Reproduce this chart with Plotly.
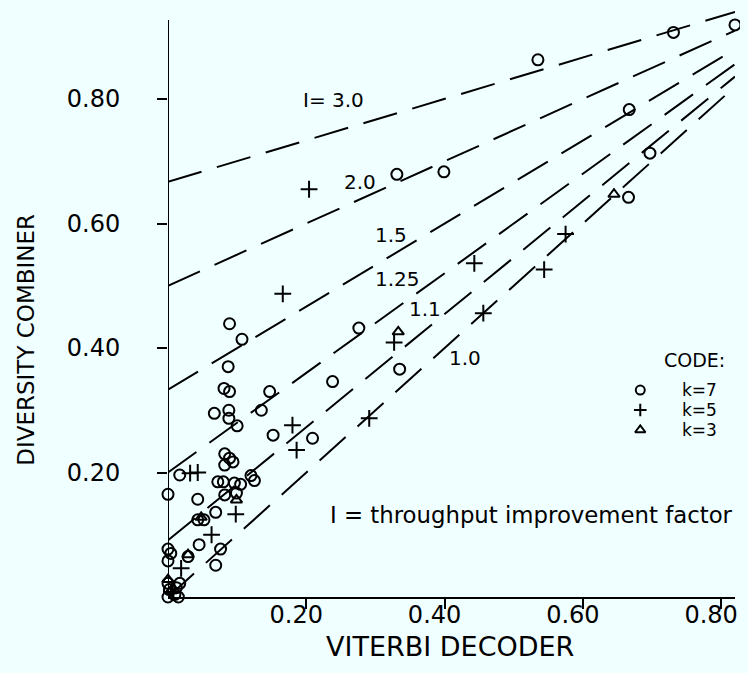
import plotly.graph_objects as go

# ---------------- data ----------------
k7_x = [0.820, 0.731, 0.535, 0.667, 0.697, 0.666, 0.399, 0.331, 0.276, 0.335, 0.238, 0.209,
        0.089, 0.107, 0.087, 0.081, 0.089, 0.147, 0.067, 0.088, 0.135, 0.088, 0.100, 0.152,
        0.082, 0.089, 0.094, 0.082, 0.017, 0.072, 0.080, 0.096, 0.105, 0.120, 0.125,
        0.000, 0.043, 0.082, 0.099, 0.069, 0.043, 0.052, 0.045, 0.076, 0.069,
        0.000, 0.004, 0.000, 0.029, 0.017,
        0.000, 0.002, 0.000, 0.010, 0.012, 0.005, 0.015]
k7_y = [0.919, 0.907, 0.863, 0.783, 0.713, 0.642, 0.683, 0.679, 0.432, 0.366, 0.346, 0.255,
        0.439, 0.414, 0.370, 0.335, 0.330, 0.330, 0.295, 0.300, 0.300, 0.287, 0.275, 0.260,
        0.230, 0.223, 0.217, 0.212, 0.196, 0.185, 0.185, 0.183, 0.181, 0.195, 0.187,
        0.165, 0.157, 0.164, 0.167, 0.136, 0.124, 0.124, 0.084, 0.077, 0.051,
        0.077, 0.070, 0.058, 0.065, 0.022,
        0.000, 0.012, 0.022, 0.004, 0.015, -0.008, 0.000]

k5_x = [0.575, 0.544, 0.443, 0.456, 0.204, 0.166, 0.327, 0.291, 0.180, 0.186,
        0.032, 0.043, 0.098, 0.063, 0.019, 0.005]
k5_y = [0.583, 0.526, 0.536, 0.456, 0.655, 0.487, 0.409, 0.287, 0.276, 0.236,
        0.199, 0.200, 0.133, 0.100, 0.046, 0.008]

k3_x = [0.645, 0.333, 0.099, 0.048, 0.029, 0.000, 0.004]
k3_y = [0.647, 0.426, 0.156, 0.128, 0.068, 0.028, 0.010]

# throughput-improvement reference lines: value at x=0 and at x=0.82
factor_labels = ["I= 3.0", "2.0", "1.5", "1.25", "1.1", "1.0"]
line_x = [0.0, 0.82]
line_start = [0.667, 0.500, 0.333, 0.200, 0.091, 0.000]
line_end = [0.940, 0.910, 0.880, 0.856, 0.836, 0.820]

x_ticks = [0.2, 0.4, 0.6, 0.8]
x_ticktext = ["0.20", "0.40", "0.60", "0.80"]
y_ticks = [0.2, 0.4, 0.6, 0.8]
y_ticktext = ["0.20", "0.40", "0.60", "0.80"]

legend_names = ["k=7", "k=5", "k=3"]

# ---------------- figure ----------------
BG = "#F0FFFF"
FONT = "DejaVu Sans"
fig = go.Figure()

for s, e in zip(line_start, line_end):
    fig.add_trace(go.Scatter(x=line_x, y=[s, e], mode="lines",
                             line=dict(color="black", width=2, dash="35px,16px"),
                             hoverinfo="skip", showlegend=False))

fig.add_trace(go.Scatter(x=k7_x, y=k7_y, mode="markers", cliponaxis=False,
                         marker=dict(symbol="circle-open", size=11, color="black",
                                     line=dict(width=2, color="black")),
                         showlegend=False, name="k=7"))
fig.add_trace(go.Scatter(x=k5_x, y=k5_y, mode="markers", cliponaxis=False,
                         marker=dict(symbol="cross-thin-open", size=12, color="black",
                                     line=dict(width=2, color="black")),
                         showlegend=False, name="k=5"))
fig.add_trace(go.Scatter(x=k3_x, y=k3_y, mode="markers", cliponaxis=False,
                         marker=dict(symbol="triangle-up-open", size=10, color="black",
                                     line=dict(width=2, color="black")),
                         showlegend=False, name="k=3"))

# manual legend symbols
leg_y = [0.3325, 0.3004, 0.2683]
for sym, yy in zip(["circle-open", "cross-thin-open", "triangle-up-open"], leg_y):
    fig.add_trace(go.Scatter(x=[0.683], y=[yy], mode="markers", cliponaxis=False,
                             marker=dict(symbol=sym, size=9, color="black",
                                         line=dict(width=2, color="black")),
                             hoverinfo="skip", showlegend=False))

ann = []
label_pos = [(0.240, 0.798), (0.278, 0.667), (0.322, 0.581), (0.332, 0.511),
             (0.371, 0.463), (0.429, 0.384)]
for t, (lx, ly) in zip(factor_labels, label_pos):
    ann.append(dict(x=lx, y=ly, xref="x", yref="y", text=t, showarrow=False,
                    font=dict(family=FONT, size=20, color="black")))

ann.append(dict(x=0.761, y=0.380, xref="x", yref="y", text="CODE:", showarrow=False,
                font=dict(family=FONT, size=19, color="black")))
for t, yy in zip(legend_names, leg_y):
    ann.append(dict(x=0.740, y=yy, xref="x", yref="y", text=t, showarrow=False,
                    xanchor="left", font=dict(family=FONT, size=17, color="black")))
ann.append(dict(x=0.82, y=0.132, xref="x", yref="y", xanchor="right",
                text="I = throughput improvement factor", showarrow=False,
                font=dict(family=FONT, size=22.8, color="black")))

# axis titles (plot area spans page px 168..738 horizontally, 10..597 vertically)
ann.append(dict(x=(451 - 168) / 570, y=(597 - 646) / 587, xref="paper", yref="paper",
                xanchor="center", yanchor="middle",
                text="VITERBI DECODER", showarrow=False,
                font=dict(family=FONT, size=27, color="black")))
ann.append(dict(x=(25 - 168) / 570, y=(597 - 340) / 587, xref="paper", yref="paper",
                xanchor="center", yanchor="middle",
                text="DIVERSITY COMBINER", showarrow=False, textangle=-90,
                font=dict(family=FONT, size=23, color="black")))

# page has an 8px body margin: figure sits at (8, 8)
fig.update_layout(
    width=732, height=657, autosize=False,
    margin=dict(l=160, r=2, t=2, b=68),
    paper_bgcolor=BG, plot_bgcolor=BG,
    annotations=ann,
    shapes=[dict(type="line", xref="x", yref="y", x0=0, x1=0, y0=0, y1=0.927,
                 line=dict(color="black", width=2))],
    xaxis=dict(range=[0, 0.82], tickvals=x_ticks, ticktext=x_ticktext,
               ticks="outside", ticklen=10, tickwidth=2, tickcolor="black",
               showline=True, linewidth=2, linecolor="black",
               showgrid=False, zeroline=False, ticklabelshift=-10,
               ticklabelstandoff=-15, ticklabeloverflow="allow",
               tickfont=dict(family=FONT, size=24, color="black")),
    yaxis=dict(range=[0, 0.943], tickvals=y_ticks, ticktext=y_ticktext,
               ticks="outside", ticklen=10, tickwidth=2, tickcolor="black",
               showline=False, showgrid=False, zeroline=False,
               ticklabelstandoff=32, ticklabeloverflow="allow",
               tickfont=dict(family=FONT, size=24, color="black")),
)

fig.write_html("out.html",
               post_script="document.body.style.background='#F0FFFF';"
                           "document.documentElement.style.background='#F0FFFF';")
